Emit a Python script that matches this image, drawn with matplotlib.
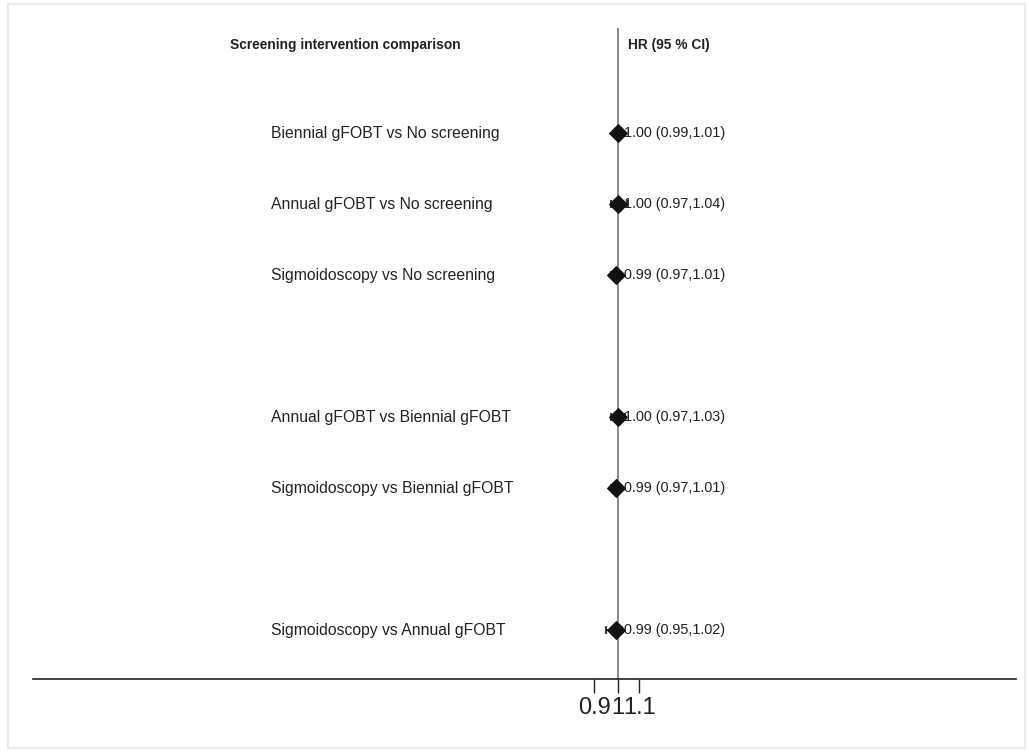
import numpy as np
import matplotlib
matplotlib.use("Agg")
import matplotlib.pyplot as plt
from matplotlib.patches import Rectangle

plt.rcParams['font.family'] = ['Liberation Sans', 'DejaVu Sans']

# Comparisons and hazard ratios with 95% confidence intervals
comparisons = [
    "Biennial gFOBT vs No screening",
    "Annual gFOBT vs No screening",
    "Sigmoidoscopy vs No screening",
    "Annual gFOBT vs Biennial gFOBT",
    "Sigmoidoscopy vs Biennial gFOBT",
    "Sigmoidoscopy vs Annual gFOBT",
]
hr = [1.00, 1.00, 0.99, 1.00, 0.99, 0.99]
ci_low = [0.99, 0.97, 0.97, 0.97, 0.97, 0.95]
ci_high = [1.01, 1.04, 1.01, 1.03, 1.01, 1.02]
row_pos = [1, 2, 3, 5, 6, 8]

tick_values = [0.9, 1, 1.1]
tick_labels = ["0.9", "1", "1.1"]

W, H = 1029, 752
fig = plt.figure(figsize=(W / 100, H / 100), dpi=100)

# light frame around the figure
fig.patches.append(Rectangle((8 / W, 4 / H), (W - 12) / W, (H - 8) / H,
                             transform=fig.transFigure, fill=False,
                             edgecolor="#e6e6e6", linewidth=1.2))

ax_left, ax_right = 33 / W, 1016 / W
ax_top, ax_bottom = 1 - 28 / H, 1 - 679 / H
ax = fig.add_axes([ax_left, ax_bottom, ax_right - ax_left, ax_top - ax_bottom])

ax.set_xscale("log")
ax.set_xlim(np.exp((33 - 618) / 225), np.exp((1016 - 618) / 225))
ax.set_ylim(8.69, -0.48)

for side in ("left", "right", "top"):
    ax.spines[side].set_visible(False)
ax.spines["bottom"].set_color("#222222")
ax.spines["bottom"].set_linewidth(1.2)
ax.set_yticks([])
ax.xaxis.set_minor_locator(matplotlib.ticker.NullLocator())
ax.set_xticks(tick_values)
ax.set_xticklabels(tick_labels, fontsize=17, color="#222222")
ax.tick_params(axis="x", length=10, width=1, color="#222222", pad=3)

# line of no effect
ax.axvline(1, color="#777777", linewidth=1.2, zorder=1)

# confidence intervals and point estimates
lo_err = np.array(hr) - np.array(ci_low)
hi_err = np.array(ci_high) - np.array(hr)
ax.errorbar(hr, row_pos, xerr=[lo_err, hi_err], fmt="none", ecolor="#111111",
            elinewidth=1.2, capsize=3, capthick=1.2, zorder=2)
ax.scatter(hr, row_pos, marker="D", s=80, color="#111111", zorder=3)

# labels
text_x = np.exp((624 - 618) / 225)
label_x = np.exp((271 - 618) / 225)
for name, y, h, lo, hi in zip(comparisons, row_pos, hr, ci_low, ci_high):
    ax.text(label_x, y, name, ha="left", va="center", fontsize=11.3,
            color="#222222")
    ax.text(text_x, y, f"{h:.2f} ({lo:.2f},{hi:.2f})", ha="left",
            va="center", fontsize=10.4, color="#222222")

ax.text(np.exp((230 - 618) / 225), -0.24, "Screening intervention comparison",
        ha="left", va="center", fontsize=9.9, fontweight="bold", color="#222222")
ax.text(np.exp((628 - 618) / 225), -0.24, "HR (95 % CI)",
        ha="left", va="center", fontsize=9.9, fontweight="bold", color="#222222")

fig.savefig("out.png", dpi=100)
